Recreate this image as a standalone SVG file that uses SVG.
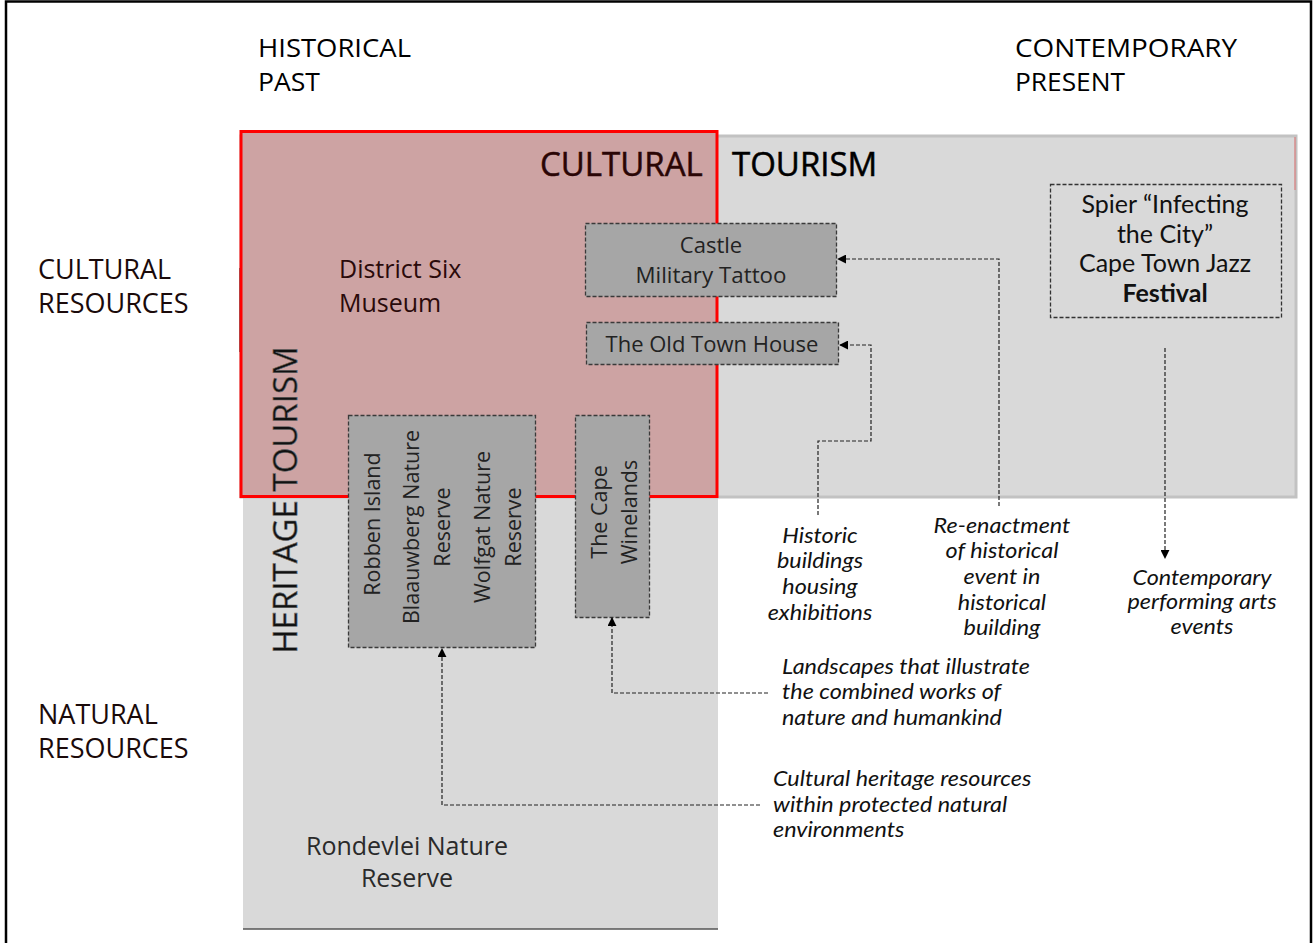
<svg xmlns="http://www.w3.org/2000/svg" width="1313" height="943" viewBox="0 0 1313 943">
<defs>
<style>
text{font-family:"Open Sans","Noto Sans","Liberation Sans",sans-serif;}
.hdr{font-size:26px;fill:#000;}
.side{font-size:27px;fill:#1a0a0a;}
.big{font-size:33px;}
.box{fill:#a6a6a6;stroke:#3a3a3a;stroke-width:1.3;stroke-dasharray:4 2;}
.bt{font-size:22px;fill:#222;text-anchor:middle;}
.vt{font-size:21.5px;fill:#222;text-anchor:middle;}
.lbl{font-family:Lato,"Open Sans",sans-serif;font-size:20.5px;font-style:italic;fill:#111;}
.sp{font-family:Lato,"Open Sans",sans-serif;font-size:25px;fill:#111;text-anchor:middle;}
.conn{fill:none;stroke:#222;stroke-width:1.2;stroke-dasharray:4 2;}
</style>
<marker id="ah" viewBox="0 0 10 10" refX="9" refY="5" markerWidth="9" markerHeight="9" markerUnits="userSpaceOnUse" orient="auto">
<path d="M0,0 L10,5 L0,10 z" fill="#000"/>
</marker>
</defs>
<rect x="0" y="0" width="1313" height="943" fill="#fff"/>
<rect id="frame" x="6" y="1.5" width="1305" height="960" fill="none" stroke="#000" stroke-width="2.5"/>

<g id="headers">
<text class="hdr" x="258" y="57" textLength="153" lengthAdjust="spacingAndGlyphs">HISTORICAL</text>
<text class="hdr" x="258" y="91" textLength="62" lengthAdjust="spacingAndGlyphs">PAST</text>
<text class="hdr" x="1015" y="57" textLength="222" lengthAdjust="spacingAndGlyphs">CONTEMPORARY</text>
<text class="hdr" x="1015" y="91" textLength="110" lengthAdjust="spacingAndGlyphs">PRESENT</text>
<text class="side" x="38" y="279">CULTURAL</text>
<text class="side" x="38" y="313">RESOURCES</text>
<text class="side" x="38" y="724" fill="#000">NATURAL</text>
<text class="side" x="38" y="758" fill="#000">RESOURCES</text>
</g>

<g id="heritage-area">
<rect x="243" y="300" width="475" height="629" fill="#d9d9d9"/>
<line x1="243" y1="929" x2="718" y2="929" stroke="#555" stroke-width="1.5"/>
<text x="407" y="855" font-size="25" fill="#2a2a2a" text-anchor="middle">Rondevlei Nature</text>
<text x="407" y="887" font-size="25" fill="#2a2a2a" text-anchor="middle">Reserve</text>
</g>

<g id="cultural-tourism">
<rect x="241" y="136" width="1055" height="361" fill="#d9d9d9" stroke="#c2c2c2" stroke-width="3"/>
<line x1="1295" y1="137" x2="1295" y2="190" stroke="#e07070" stroke-width="1"/>
<line x1="240" y1="268" x2="240" y2="352" stroke="#555" stroke-width="1.5"/>
<rect x="241" y="131.5" width="476" height="365" fill="#cda3a3" stroke="#f00" stroke-width="3"/>
<text class="big" x="540" y="176" fill="#2a0505" stroke="#2a0505" stroke-width="0.5">CULTURAL</text>
<text class="big" x="732" y="176" fill="#000" stroke="#000" stroke-width="0.5">TOURISM</text>
</g>

<g id="heritage-label">
<text class="big" transform="translate(297,500) rotate(-90)" text-anchor="middle" fill="#111" stroke="#666" stroke-width="0.6">HERITAGE TOURISM</text>
</g>

<g id="district-six">
<text x="339" y="278" font-size="25" fill="#2a0a0a">District Six</text>
<text x="339" y="312" font-size="25" fill="#2a0a0a">Museum</text>
</g>

<g id="castle">
<rect class="box" x="585.5" y="223.5" width="251" height="73"/>
<text class="bt" x="711" y="253" fill="#3a3a3a">Castle</text>
<text class="bt" x="711" y="283" textLength="151" lengthAdjust="spacingAndGlyphs">Military Tattoo</text>
</g>

<g id="old-town-house">
<rect class="box" x="586.5" y="322.5" width="252" height="42"/>
<text class="bt" x="712" y="352" font-size="23">The Old Town House</text>
</g>

<g id="spier">
<rect x="1050.5" y="184.5" width="231" height="133" fill="none" stroke="#333" stroke-width="1.3" stroke-dasharray="4 2"/>
<text class="sp" x="1165" y="213">Spier “Infecting</text>
<text class="sp" x="1165" y="243">the City”</text>
<text class="sp" x="1165" y="272">Cape Town Jazz</text>
<text class="sp" x="1165" y="302" font-weight="bold">Festival</text>
</g>

<g id="reserves">
<rect class="box" x="348.5" y="415.5" width="187" height="232"/>
<text class="vt" transform="translate(380,524) rotate(-90)">Robben Island</text>
<text class="vt" transform="translate(419,527) rotate(-90)">Blaauwberg Nature</text>
<text class="vt" transform="translate(450,527) rotate(-90)">Reserve</text>
<text class="vt" transform="translate(490,527) rotate(-90)">Wolfgat Nature</text>
<text class="vt" transform="translate(521,527) rotate(-90)">Reserve</text>
</g>

<g id="winelands">
<rect class="box" x="575.5" y="415.5" width="74" height="202"/>
<text class="vt" transform="translate(607,512) rotate(-90)">The Cape</text>
<text class="vt" transform="translate(637,512) rotate(-90)">Winelands</text>
</g>

<g id="connectors">
<path class="conn" d="M999,506 L999,259 L838,259" marker-end="url(#ah)"/>
<path class="conn" d="M818,515 L818,441 L871,441 L871,345 L840,345" marker-end="url(#ah)"/>
<path class="conn" d="M1165,348 L1165,558" stroke-dasharray="5 2 1 2" marker-end="url(#ah)"/>
<path class="conn" d="M768,693 L612,693 L612,618" marker-end="url(#ah)"/>
<path class="conn" d="M760,805 L442,805 L442,649" marker-end="url(#ah)"/>
</g>

<g id="labels">
<g transform="translate(820,0) scale(1.14,1) translate(-820,0)">
<text class="lbl" x="820" y="543" text-anchor="middle">Historic</text>
<text class="lbl" x="820" y="568" text-anchor="middle">buildings</text>
<text class="lbl" x="820" y="594" text-anchor="middle">housing</text>
<text class="lbl" x="820" y="620" text-anchor="middle">exhibitions</text>
</g>
<g transform="translate(1002,0) scale(1.14,1) translate(-1002,0)">
<text class="lbl" x="1002" y="533" text-anchor="middle">Re-enactment</text>
<text class="lbl" x="1002" y="558" text-anchor="middle">of historical</text>
<text class="lbl" x="1002" y="584" text-anchor="middle">event in</text>
<text class="lbl" x="1002" y="610" text-anchor="middle">historical</text>
<text class="lbl" x="1002" y="635" text-anchor="middle">building</text>
</g>
<g transform="translate(1202,0) scale(1.14,1) translate(-1202,0)">
<text class="lbl" x="1202" y="585" text-anchor="middle">Contemporary</text>
<text class="lbl" x="1202" y="609" text-anchor="middle">performing arts</text>
<text class="lbl" x="1202" y="634" text-anchor="middle">events</text>
</g>
<g transform="translate(782,0) scale(1.14,1) translate(-782,0)">
<text class="lbl" x="782" y="674">Landscapes that illustrate</text>
<text class="lbl" x="782" y="699">the combined works of</text>
<text class="lbl" x="782" y="725">nature and humankind</text>
</g>
<g transform="translate(773,0) scale(1.14,1) translate(-773,0)">
<text class="lbl" x="773" y="786">Cultural heritage resources</text>
<text class="lbl" x="773" y="812">within protected natural</text>
<text class="lbl" x="773" y="837">environments</text>
</g>
</g>
</svg>
